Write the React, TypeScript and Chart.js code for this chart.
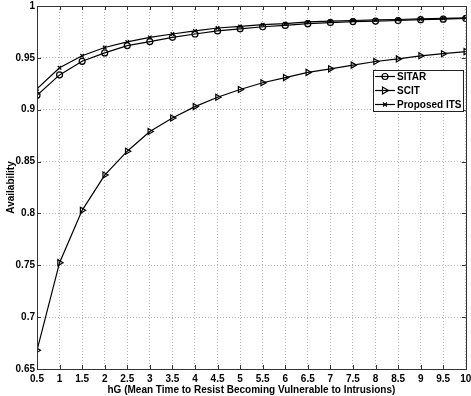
import React, { useEffect, useRef } from "react";
import { Chart, registerables } from "chart.js";

Chart.register(...registerables);

const xValues = [0.5, 1, 1.5, 2, 2.5, 3, 3.5, 4, 4.5, 5, 5.5, 6, 6.5, 7, 7.5, 8, 8.5, 9, 9.5, 10];
const sitar = [0.914, 0.9336, 0.9467, 0.9548, 0.9618, 0.9657, 0.9698, 0.973, 0.976, 0.978, 0.980, 0.9813, 0.983, 0.984, 0.985, 0.9855, 0.986, 0.9868, 0.9873, 0.988];
const scit = [0.668, 0.7525, 0.803, 0.837, 0.860, 0.879, 0.892, 0.903, 0.912, 0.9195, 0.926, 0.931, 0.936, 0.9394, 0.943, 0.9465, 0.949, 0.952, 0.954, 0.956];
const proposed = [0.9202, 0.9404, 0.952, 0.960, 0.9654, 0.9698, 0.973, 0.976, 0.9788, 0.9804, 0.982, 0.983, 0.9846, 0.9855, 0.986, 0.9866, 0.987, 0.9875, 0.988, 0.9885];
const seriesNames = ["SITAR", "SCIT", "Proposed ITS"];
const xTitle = "hG (Mean Time to Resist Becoming Vulnerable to Intrusions)";
const yTitle = "Availability";

const FONT = "'Liberation Sans', Arial, sans-serif";

const pointStyles: any[] = ["circle", "triangle", "crossRot"];
const pointRotations = [0, 90, 0];
const pointRadii = [3, 3.5, 2.5];

function drawMarker(ctx: CanvasRenderingContext2D, i: number, x: number, y: number) {
  ctx.beginPath();
  if (i === 0) {
    ctx.arc(x, y, 3, 0, Math.PI * 2);
  } else if (i === 1) {
    ctx.moveTo(x + 3.5, y);
    ctx.lineTo(x - 2.5, y - 3.5);
    ctx.lineTo(x - 2.5, y + 3.5);
    ctx.closePath();
  } else {
    const r = 2;
    ctx.moveTo(x - r, y - r);
    ctx.lineTo(x + r, y + r);
    ctx.moveTo(x + r, y - r);
    ctx.lineTo(x - r, y + r);
  }
  ctx.stroke();
}

const framePlugin = {
  id: "frame",
  afterDraw(chart: any) {
    const { ctx, chartArea: a, scales } = chart;
    ctx.save();
    ctx.strokeStyle = "#333";
    ctx.lineWidth = 1;
    ctx.setLineDash([]);
    ctx.strokeRect(Math.round(a.left) + 0.5, Math.round(a.top) + 0.5, Math.round(a.right - a.left), Math.round(a.bottom - a.top));
    const tl = 4;
    ctx.beginPath();
    scales.x.ticks.forEach((t: any) => {
      const px = Math.round(scales.x.getPixelForValue(t.value)) + 0.5;
      ctx.moveTo(px, a.bottom);
      ctx.lineTo(px, a.bottom - tl);
      ctx.moveTo(px, a.top);
      ctx.lineTo(px, a.top + tl);
    });
    scales.y.ticks.forEach((t: any) => {
      const py = Math.round(scales.y.getPixelForValue(t.value)) + 0.5;
      ctx.moveTo(a.left, py);
      ctx.lineTo(a.left + tl, py);
      ctx.moveTo(a.right, py);
      ctx.lineTo(a.right - tl, py);
    });
    ctx.stroke();

    // legend
    const lx = 373, ly = 70, lw = 90, lh = 41;
    ctx.fillStyle = "#fff";
    ctx.fillRect(lx, ly, lw, lh);
    ctx.strokeStyle = "#222";
    ctx.strokeRect(lx + 0.5, ly + 0.5, lw, lh);
    ctx.font = `bold 10px ${FONT}`;
    ctx.textBaseline = "middle";
    ctx.textAlign = "left";
    seriesNames.forEach((name, i) => {
      const y = ly + 6.5 + i * 14;
      ctx.strokeStyle = "#000";
      ctx.lineWidth = 1.2;
      ctx.beginPath();
      ctx.moveTo(lx + 2, y);
      ctx.lineTo(lx + 22, y);
      ctx.stroke();
      drawMarker(ctx, i, lx + 12, y);
      ctx.fillStyle = "#000";
      ctx.fillText(name, lx + 24, y + 0.5);
    });
    ctx.restore();
  },
};

export default function App() {
  const ref = useRef<HTMLCanvasElement>(null);
  useEffect(() => {
    if (!ref.current) return;
    const mk = (label: string, data: number[], i: number) => ({
      label,
      data: xValues.map((x, k) => ({ x, y: data[k] })),
      borderColor: "#000",
      backgroundColor: "rgba(0,0,0,0)",
      borderWidth: 1.2,
      pointStyle: pointStyles[i],
      pointRotation: pointRotations[i],
      pointRadius: pointRadii[i],
      pointBorderColor: "#000",
      pointBorderWidth: 1.2,
      pointBackgroundColor: "rgba(0,0,0,0)",
      tension: 0,
      fill: false,
    });
    const chart = new Chart(ref.current, {
      type: "line",
      data: {
        datasets: [mk(seriesNames[0], sitar, 0), mk(seriesNames[1], scit, 1), mk(seriesNames[2], proposed, 2)],
      },
      plugins: [framePlugin],
      options: {
        responsive: false,
        animation: false,
        devicePixelRatio: 1,
        layout: { padding: { top: 6, right: 5, left: 0, bottom: 0 } },
        plugins: { legend: { display: false }, tooltip: { enabled: false } },
        scales: {
          x: {
            type: "linear",
            min: 0.5,
            max: 10,
            afterFit: (s: any) => { s.height = 27; s.paddingLeft = 0; s.paddingRight = 0; },
            afterBuildTicks: (s: any) => {
              s.ticks = xValues.map((v) => ({ value: v }));
            },
            ticks: {
              stepSize: 0.5,
              autoSkip: false,
              maxRotation: 0,
              padding: 4,
              color: "#000",
              font: { family: FONT, size: 10, weight: "bold" },
              callback: (v: any) => String(Number(Number(v).toFixed(2))),
            },
            grid: { color: "#b4b4b4", lineWidth: 1, drawTicks: false },
            border: { display: false, dash: [1, 2] },
            title: {
              display: true,
              text: xTitle,
              color: "#000",
              padding: { top: 0, bottom: 0 },
              font: { family: FONT, size: 10, weight: "bold" },
            },
          },
          y: {
            type: "linear",
            min: 0.65,
            max: 1,
            afterFit: (s: any) => { s.width = 37; s.paddingTop = 0; s.paddingBottom = 0; },
            ticks: {
              stepSize: 0.05,
              padding: 2,
              color: "#000",
              font: { family: FONT, size: 10, weight: "bold" },
              callback: (v: any) => String(Number(Number(v).toFixed(2))),
            },
            grid: { color: "#b4b4b4", lineWidth: 1, drawTicks: false },
            border: { display: false, dash: [1, 2] },
            title: {
              display: true,
              text: yTitle,
              color: "#000",
              padding: { top: 5, bottom: 0 },
              font: { family: FONT, size: 10, weight: "bold" },
            },
          },
        },
      } as any,
    });
    return () => chart.destroy();
  }, []);
  return (
    <div style={{ position: "absolute", left: 0, top: 0, width: 471, height: 396, background: "#fff" }}>
      <canvas ref={ref} width={471} height={396} style={{ display: "block" }} />
    </div>
  );
}
